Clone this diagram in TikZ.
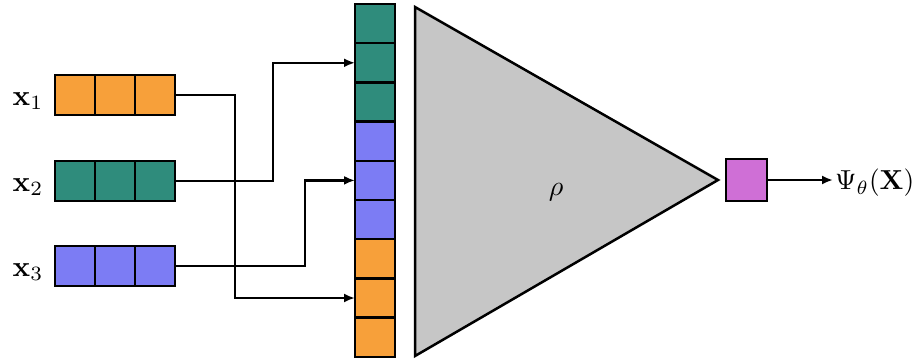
\documentclass[tikz,border=0pt]{standalone}
\usepackage{graphicx}
\usetikzlibrary{arrows.meta}
\definecolor{corange}{HTML}{F7A03A}
\definecolor{cteal}{HTML}{2F8C7C}
\definecolor{cblue}{HTML}{7C7CF4}
\definecolor{cmag}{HTML}{CF6FD6}
\definecolor{cgray}{HTML}{C6C6C6}
\begin{document}
\begin{tikzpicture}[x=1pt,y=-1pt,
  cell/.style={draw=black,line width=2.5pt,minimum width=40pt,minimum height=40pt,inner sep=0pt,outer sep=0pt},
  scell/.style={cell,minimum height=39.2pt},
  conn/.style={draw=black,line width=2.4pt,-{Latex[length=11pt,width=9pt]}},
  lbl/.style={inner sep=0pt}]
\useasboundingbox (0,0) rectangle (917,362);
% input rows
\foreach \i in {1,2,3} {
  \node[cell,fill=corange] (a\i) at (35+40*\i,95) {};
  \node[cell,fill=cteal] (b\i) at (35+40*\i,181) {};
  \node[cell,fill=cblue] (c\i) at (35+40*\i,266) {};
}
\node[lbl] (l1) at (28,101) {\scalebox{2.9}{$\mathbf{x}_1$}};
\node[lbl] (l2) at (28,187) {\scalebox{2.9}{$\mathbf{x}_2$}};
\node[lbl] (l3) at (28,272) {\scalebox{2.9}{$\mathbf{x}_3$}};
% stack
\foreach \k/\c in {0/cteal,1/cteal,2/cteal,3/cblue,4/cblue,5/cblue,6/corange,7/corange,8/corange} {
  \node[scell,fill=\c] (s\k) at (375,{4+39.2*(\k+0.5)}) {};
}
% triangle
\coordinate (t1) at (415,7);
\coordinate (t2) at (718,180);
\coordinate (t3) at (415,356);
\draw[line width=2.5pt,fill=cgray,line join=miter] (t1) -- (t2) -- (t3) -- cycle;
\node[lbl] (rho) at (556,192) {\scalebox{2.8}{$\rho$}};
% output
\node[cell,fill=cmag,minimum width=41pt,minimum height=42pt] (out) at (746.5,180) {};
\coordinate (oend) at (833,180);
\node[lbl,anchor=west] (psi) at (835,183) {\scalebox{2.75}{$\Psi_\theta(\mathbf{X})$}};
% connectors
\draw[conn] (a3.east) -- ([xshift=60pt]a3.east) |- (s7.west);
\draw[conn] (b3.east) -- ([xshift=98pt]b3.east) |- (s1.west);
\draw[conn] (c3.east) -- ([xshift=130pt]c3.east) |- (s4.west);
\draw[conn] (out.east) -- (oend);
\end{tikzpicture}
\end{document}
